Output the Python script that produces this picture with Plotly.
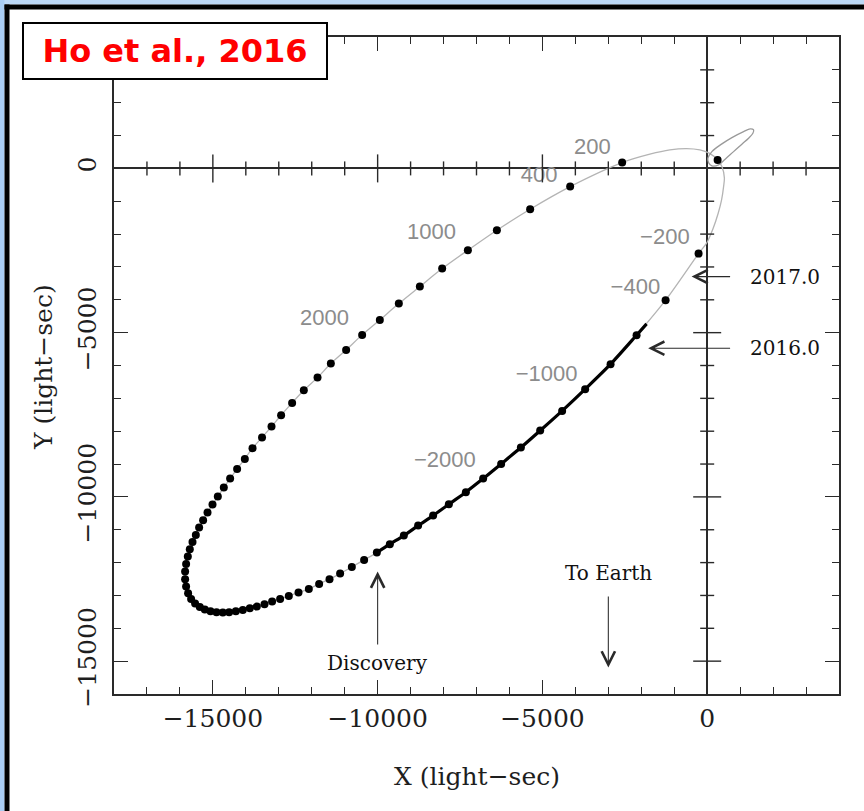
import plotly.graph_objects as go

# ---- Pulsar orbit: dots every 200 days (light-sec), from periastron round to -200 d
dot_x = [316, -2580, -4158, -5372, -6382, -7262, -8042, -8719, -9357, -9933,
         -10470, -10956, -11420, -11824, -12240, -12595, -12929, -13220, -13508, -13797,
         -14030, -14264, -14476, -14668, -14850, -15011, -15162, -15296, -15417, -15517,
         -15618, -15700, -15760, -15812, -15842, -15842, -15812, -15751, -15660, -15539,
         -15396, -15244, -15071, -14889, -14698, -14507, -14303, -14091, -13879, -13666,
         -13433, -13202, -12959, -12695, -12401, -12088, -11775, -11460, -11138, -10783,
         -10410, -10024, -9630, -9205, -8771, -8316, -7839, -7323, -6798, -6252,
         -5654, -5068, -4401, -3703, -2932, -2143, -1262, -261]
dot_y = [259, 177, -554, -1242, -1881, -2490, -3050, -3598, -4116, -4612,
         -5068, -5525, -5942, -6368, -6752, -7138, -7513, -7860, -8189, -8517,
         -8843, -9148, -9443, -9717, -9991, -10234, -10478, -10709, -10934, -11157,
         -11370, -11592, -11817, -12039, -12274, -12505, -12730, -12931, -13105, -13248,
         -13348, -13431, -13479, -13510, -13522, -13510, -13479, -13440, -13388, -13339,
         -13266, -13187, -13105, -13014, -12913, -12800, -12648, -12505, -12335, -12131,
         -11918, -11695, -11440, -11178, -10874, -10569, -10222, -9857, -9443, -8995,
         -8499, -7982, -7382, -6721, -5960, -5078, -4012, -2594]

# extra points of the orbit curve around periastron (between the -200 d and +200 d dots)
peri_x = [-18, 182, 334, 437, 498, 522, 446, 316, 61, -222, -625, -1132, -1739]
peri_y = [-2277, -1820, -1364, -959, -554, -289, 55, 259, 463, 563, 603, 563, 432]

# observed stretch of the orbit (discovery to 2016.0)
obs_x = [-10024, -9630, -9205, -8771, -8316, -7839, -7323, -6798, -6252, -5654,
         -5068, -4401, -3703, -2932, -2143, -1839]
obs_y = [-11695, -11440, -11178, -10874, -10569, -10222, -9857, -9443, -8995, -8499,
         -7982, -7382, -6721, -5960, -5078, -4734]

# companion (Be star) orbit about the centre of mass
comp_x = [21, 143, 446, 750, 1105, 1305, 1408, 1387, 1256, 1053, 801, 546, 346, 143, 42, 21]
comp_y = [310, 511, 746, 938, 1120, 1202, 1172, 1072, 919, 737, 511, 280, 107, 76, 177, 310]

# day labels along the orbit
day_text = ["200", "400", "1000", "2000", "\u2212200", "\u2212400", "\u22121000", "\u22122000"]
day_x = [-3484, -5099, -8364, -11612, -1284, -2179, -4874, -7961]
day_y = [594, -259, -1994, -4612, -2125, -3647, -6317, -8925]

# axes
x_range = [-18000, 4000]
y_range = [-16000, 4000]
major_ticks = [-15000, -10000, -5000, 0]
major_text = ["\u221215000", "\u221210000", "\u22125000", "0"]
minor_step = 1000

# orbit path: upper branch -> apastron -> lower branch -> periastron -> back
path_x = dot_x[1:] + peri_x + [dot_x[1]]
path_y = dot_y[1:] + peri_y + [dot_y[1]]

AX = "#2a2a2a"
SERIF = "DejaVu Serif"

fig = go.Figure()
fig.add_trace(go.Scatter(x=path_x, y=path_y, mode="lines",
                         line=dict(color="#b4b4b4", width=1.3, shape="spline", smoothing=0.8),
                         hoverinfo="skip"))
fig.add_trace(go.Scatter(x=comp_x, y=comp_y, mode="lines",
                         line=dict(color="#9a9a9a", width=1.3, shape="spline", smoothing=1.0),
                         hoverinfo="skip"))
fig.add_trace(go.Scatter(x=obs_x, y=obs_y, mode="lines",
                         line=dict(color="black", width=3.2, shape="spline", smoothing=0.8),
                         hoverinfo="skip"))
fig.add_trace(go.Scatter(x=dot_x, y=dot_y, mode="markers",
                         marker=dict(color="black", size=8, line=dict(width=0))))
fig.add_trace(go.Scatter(x=day_x, y=day_y, mode="text", text=day_text,
                         textfont=dict(family="Liberation Sans", size=22, color="#8c8c8c")))

# crossing ticks along the zero lines
shapes = []
for v in range(x_range[0] + minor_step, x_range[1], minor_step):
    if v == 0:
        continue
    L = 14 if v % 5000 == 0 else 7
    shapes.append(dict(type="line", xref="x", yref="y", ysizemode="pixel", yanchor=0,
                       x0=v, x1=v, y0=-L, y1=L, line=dict(color=AX, width=1.4)))
for v in range(y_range[0] + minor_step, y_range[1], minor_step):
    if v == 0:
        continue
    L = 14 if v % 5000 == 0 else 7
    shapes.append(dict(type="line", xref="x", yref="y", xsizemode="pixel", xanchor=0,
                       y0=v, y1=v, x0=-L, x1=L, line=dict(color=AX, width=1.4)))

# slide frame around the figure
W, H = 864, 811
ML, MR, MT, MB = 114, 25, 37, 117
PW, PH = W - ML - MR, H - MT - MB


def px_x(p):
    return (p - ML) / PW


def px_y(p):
    return (H - MB - p) / PH


shapes += [
    dict(type="rect", xref="paper", yref="paper", x0=px_x(0), x1=px_x(W), y0=px_y(0), y1=px_y(4.5),
         fillcolor="#bcd8f6", line=dict(width=0), layer="below"),
    dict(type="rect", xref="paper", yref="paper", x0=px_x(0), x1=px_x(4.5), y0=px_y(0), y1=px_y(H),
         fillcolor="#a9cdf3", line=dict(width=0), layer="below"),
    dict(type="rect", xref="paper", yref="paper", x0=px_x(4.5), x1=px_x(W), y0=px_y(4.5), y1=px_y(9.5),
         fillcolor="black", line=dict(width=0), layer="below"),
    dict(type="rect", xref="paper", yref="paper", x0=px_x(4.5), x1=px_x(9.5), y0=px_y(4.5), y1=px_y(H),
         fillcolor="black", line=dict(width=0), layer="below"),
]

ann = []
# event arrows
arrow = dict(showarrow=True, arrowhead=5, arrowsize=2.5, arrowwidth=1.05, arrowcolor="#2a2a2a",
             xref="x", yref="y", axref="x", ayref="y", text="")
ann.append(dict(arrow, x=-10000, y=-12274, ax=-10000, ay=-14536))
ann.append(dict(arrow, x=-3000, y=-15196, ax=-3000, ay=-12983))
ann.append(dict(arrow, x=-473, y=-3294, ax=741, ay=-3294))
ann.append(dict(arrow, x=-1791, y=-5473, ax=741, ay=-5473))

lab_font = dict(family=SERIF, size=20, color="#111111")
ann.append(dict(x=-10000, y=-15053, text="Discovery", showarrow=False, font=lab_font,
                xanchor="center", yanchor="middle"))
ann.append(dict(x=-3000, y=-12323, text="To Earth", showarrow=False, font=lab_font,
                xanchor="center", yanchor="middle"))
ann.append(dict(x=1244, y=-3294, text="2017.0", showarrow=False, font=lab_font,
                xanchor="left", yanchor="middle"))
ann.append(dict(x=1244, y=-5473, text="2016.0", showarrow=False, font=lab_font,
                xanchor="left", yanchor="middle"))

# axis titles
ann.append(dict(xref="paper", yref="paper", x=0.5, y=px_y(776), text="X (light\u2212sec)",
                showarrow=False, font=dict(family=SERIF, size=25, color="#1e1e1e"),
                xanchor="center", yanchor="middle"))
ann.append(dict(xref="paper", yref="paper", x=px_x(43), y=px_y(367), text="Y (light\u2212sec)",
                showarrow=False, textangle=-90, font=dict(family=SERIF, size=25, color="#1e1e1e"),
                xanchor="center", yanchor="middle"))

# citation box
ann.append(dict(xref="paper", yref="paper", x=px_x(175), y=px_y(51), text="<b>Ho et al., 2016</b>",
                showarrow=False, font=dict(family="DejaVu Sans", size=32, color="#ff0000"),
                bgcolor="white", bordercolor="black", borderwidth=2, borderpad=0,
                width=302, height=54, xanchor="center", yanchor="middle"))

axis_common = dict(
    showline=True, linecolor=AX, linewidth=1.6, mirror="ticks",
    ticks="inside", ticklen=14, tickwidth=1.4, tickcolor=AX,
    tickmode="array", tickvals=major_ticks, ticktext=major_text,
    tickfont=dict(family=SERIF, size=25, color="#1e1e1e"),
    minor=dict(ticks="inside", ticklen=7, tickwidth=1.4, tickcolor=AX,
               tickmode="linear", tick0=0, dtick=minor_step, showgrid=False),
    showgrid=False, zeroline=True, zerolinecolor=AX, zerolinewidth=1.6,
)

fig.update_layout(
    width=W, height=H,
    margin=dict(l=ML, r=MR, t=MT, b=MB, pad=0),
    paper_bgcolor="white", plot_bgcolor="white",
    showlegend=False,
    xaxis=dict(axis_common, range=x_range, ticklabelstandoff=1),
    yaxis=dict(axis_common, range=y_range, tickangle=-90, ticklabelstandoff=6),
    shapes=shapes,
    annotations=ann,
)

fig.write_html("out.html")
